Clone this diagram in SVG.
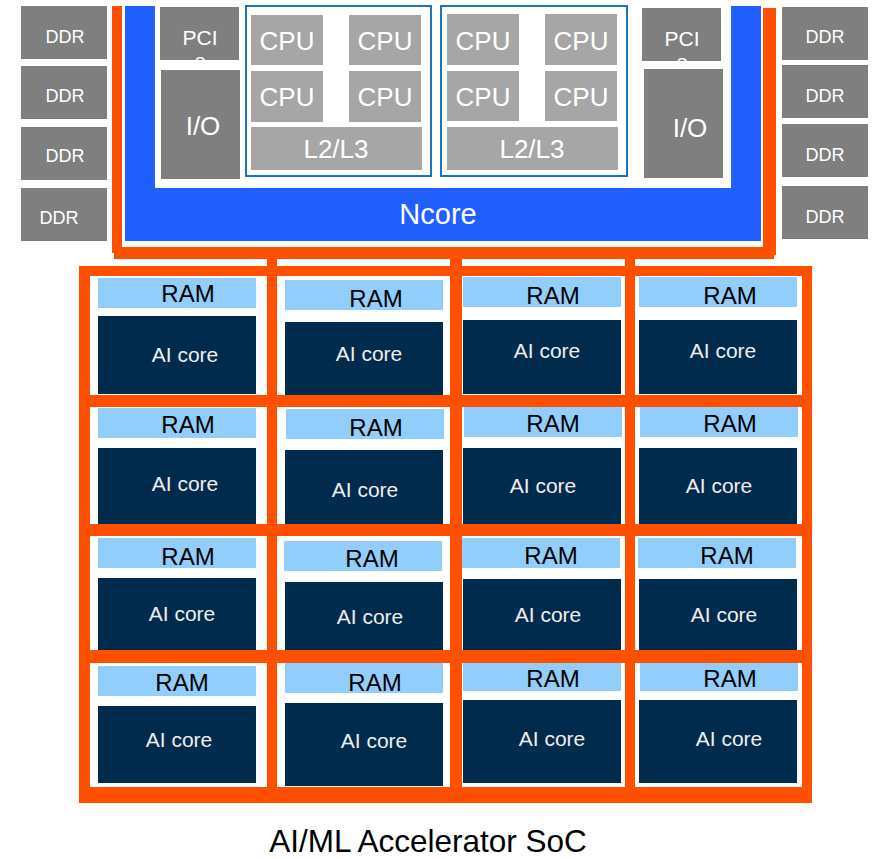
<svg xmlns="http://www.w3.org/2000/svg" width="876" height="859" viewBox="0 0 876 859">
<style>
text{font-family:"Liberation Sans",Arial,sans-serif;text-anchor:middle}
.dk{fill:#7F7F7F}
.lt{fill:#A6A6A6}
.wt{fill:#FFFFFF}
.ddr{font-size:18px}
.cpu{font-size:26px}
.ram{fill:#92CEFC}
.ai{fill:#012B4C}
.rt{font-size:24px;fill:#000}
.at{font-size:21px;fill:#EEEEEE}
.or{fill:#FF5000}
.cl{fill:none;stroke:#1B75BC;stroke-width:2}
</style>
<defs>
<clipPath id="pc1"><rect x="160" y="7" width="79" height="53"/></clipPath>
<clipPath id="pc2"><rect x="642" y="8" width="79" height="53"/></clipPath>
</defs>
<rect width="876" height="859" fill="#FFFFFF"/>

<g id="ddr-l1"><rect class="dk" x="21" y="6" width="86" height="53"/><text class="wt ddr" x="65" y="43">DDR</text></g>
<g id="ddr-l2"><rect class="dk" x="21" y="66" width="86" height="53"/><text class="wt ddr" x="65" y="102">DDR</text></g>
<g id="ddr-l3"><rect class="dk" x="21" y="127" width="86" height="53"/><text class="wt ddr" x="65" y="162">DDR</text></g>
<g id="ddr-l4"><rect class="dk" x="21" y="188" width="86" height="53"/><text class="wt ddr" x="59" y="224">DDR</text></g>
<g id="ddr-r1"><rect class="dk" x="782" y="7" width="86" height="53"/><text class="wt ddr" x="825" y="43">DDR</text></g>
<g id="ddr-r2"><rect class="dk" x="782" y="65" width="86" height="53"/><text class="wt ddr" x="825" y="102">DDR</text></g>
<g id="ddr-r3"><rect class="dk" x="782" y="124" width="86" height="53"/><text class="wt ddr" x="825" y="161">DDR</text></g>
<g id="ddr-r4"><rect class="dk" x="782" y="186" width="86" height="53"/><text class="wt ddr" x="825" y="223">DDR</text></g>

<g id="ncore"><path d="M125,6 H155 V188 H731 V6 H761 V241 H125 Z" fill="#225FFF"/><text class="wt" x="438" y="224" font-size="29">Ncore</text></g>

<g id="pcie-l"><rect class="dk" x="160" y="7" width="79" height="53"/><text class="wt" x="200" y="45" font-size="21" clip-path="url(#pc1)">PCI<tspan x="200" y="68">e</tspan></text></g>
<g id="io-l"><rect class="dk" x="161" y="70" width="79" height="109"/><text class="wt" x="203" y="135" font-size="26">I/O</text></g>
<g id="pcie-r"><rect class="dk" x="642" y="8" width="79" height="53"/><text class="wt" x="682" y="46" font-size="21" clip-path="url(#pc2)">PCI<tspan x="682" y="69">e</tspan></text></g>
<g id="io-r"><rect class="dk" x="644" y="69" width="79" height="109"/><text class="wt" x="690" y="137" font-size="26">I/O</text></g>

<g id="cluster-l">
<rect class="cl" x="246" y="6" width="185" height="170"/>
<rect class="lt" x="251" y="15" width="72" height="50"/><text class="wt cpu" x="287" y="50">CPU</text>
<rect class="lt" x="349" y="15" width="72" height="50"/><text class="wt cpu" x="385" y="50">CPU</text>
<rect class="lt" x="251" y="71" width="72" height="51"/><text class="wt cpu" x="287" y="106">CPU</text>
<rect class="lt" x="349" y="71" width="72" height="51"/><text class="wt cpu" x="385" y="106">CPU</text>
<rect class="lt" x="251" y="127" width="171" height="43"/><text class="wt cpu" x="336" y="158">L2/L3</text>
</g>
<g id="cluster-r">
<rect class="cl" x="441" y="6" width="186" height="170"/>
<rect class="lt" x="447" y="14" width="72" height="51"/><text class="wt cpu" x="483" y="50">CPU</text>
<rect class="lt" x="545" y="14" width="72" height="51"/><text class="wt cpu" x="581" y="50">CPU</text>
<rect class="lt" x="447" y="71" width="72" height="50"/><text class="wt cpu" x="483" y="106">CPU</text>
<rect class="lt" x="545" y="71" width="72" height="50"/><text class="wt cpu" x="581" y="106">CPU</text>
<rect class="lt" x="447" y="127" width="171" height="43"/><text class="wt cpu" x="532" y="158">L2/L3</text>
</g>

<g id="tile-1-1"><rect class="ram" x="98" y="278" width="158" height="30"/><text class="rt" x="188" y="302">RAM</text><rect class="ai" x="98" y="316" width="158" height="78"/><text class="at" x="185" y="362">AI core</text></g>
<g id="tile-1-2"><rect class="ram" x="285" y="280" width="158" height="30"/><text class="rt" x="376" y="307">RAM</text><rect class="ai" x="285" y="322" width="158" height="73"/><text class="at" x="369" y="361">AI core</text></g>
<g id="tile-1-3"><rect class="ram" x="463" y="277" width="158" height="30"/><text class="rt" x="553" y="304">RAM</text><rect class="ai" x="463" y="320" width="158" height="74"/><text class="at" x="547" y="358">AI core</text></g>
<g id="tile-1-4"><rect class="ram" x="639" y="277" width="158" height="30"/><text class="rt" x="730" y="304">RAM</text><rect class="ai" x="639" y="320" width="158" height="74"/><text class="at" x="723" y="358">AI core</text></g>

<g id="tile-2-1"><rect class="ram" x="98" y="408" width="158" height="30"/><text class="rt" x="188" y="433">RAM</text><rect class="ai" x="98" y="448" width="158" height="76"/><text class="at" x="185" y="491">AI core</text></g>
<g id="tile-2-2"><rect class="ram" x="286" y="409" width="158" height="30"/><text class="rt" x="376" y="436">RAM</text><rect class="ai" x="285" y="450" width="158" height="74"/><text class="at" x="365" y="497">AI core</text></g>
<g id="tile-2-3"><rect class="ram" x="464" y="407" width="158" height="30"/><text class="rt" x="553" y="432">RAM</text><rect class="ai" x="463" y="448" width="158" height="76"/><text class="at" x="543" y="493">AI core</text></g>
<g id="tile-2-4"><rect class="ram" x="640" y="407" width="158" height="30"/><text class="rt" x="730" y="432">RAM</text><rect class="ai" x="639" y="448" width="158" height="76"/><text class="at" x="719" y="493">AI core</text></g>

<g id="tile-3-1"><rect class="ram" x="98" y="538" width="158" height="30"/><text class="rt" x="188" y="565">RAM</text><rect class="ai" x="98" y="578" width="158" height="72"/><text class="at" x="182" y="621">AI core</text></g>
<g id="tile-3-2"><rect class="ram" x="284" y="541" width="158" height="30"/><text class="rt" x="372" y="567">RAM</text><rect class="ai" x="285" y="582" width="158" height="68"/><text class="at" x="370" y="624">AI core</text></g>
<g id="tile-3-3"><rect class="ram" x="462" y="538" width="158" height="30"/><text class="rt" x="551" y="564">RAM</text><rect class="ai" x="463" y="579" width="158" height="71"/><text class="at" x="548" y="622">AI core</text></g>
<g id="tile-3-4"><rect class="ram" x="638" y="538" width="158" height="30"/><text class="rt" x="727" y="564">RAM</text><rect class="ai" x="639" y="579" width="158" height="71"/><text class="at" x="724" y="622">AI core</text></g>

<g id="tile-4-1"><rect class="ram" x="98" y="666" width="158" height="30"/><text class="rt" x="182" y="691">RAM</text><rect class="ai" x="98" y="706" width="158" height="77"/><text class="at" x="179" y="747">AI core</text></g>
<g id="tile-4-2"><rect class="ram" x="285" y="663" width="158" height="30"/><text class="rt" x="375" y="691">RAM</text><rect class="ai" x="285" y="703" width="158" height="83"/><text class="at" x="374" y="748">AI core</text></g>
<g id="tile-4-3"><rect class="ram" x="463" y="663" width="158" height="28"/><text class="rt" x="553" y="687">RAM</text><rect class="ai" x="463" y="700" width="158" height="83"/><text class="at" x="552" y="746">AI core</text></g>
<g id="tile-4-4"><rect class="ram" x="640" y="663" width="158" height="28"/><text class="rt" x="730" y="687">RAM</text><rect class="ai" x="639" y="700" width="158" height="83"/><text class="at" x="729" y="746">AI core</text></g>

<g id="connectors" class="or">
<rect x="112" y="6" width="10" height="247"/>
<rect x="114" y="247" width="660" height="12"/>
<rect x="763" y="8" width="13" height="247"/>
<rect x="79" y="266" width="733" height="10"/>
<rect x="79" y="395" width="733" height="12"/>
<rect x="79" y="524" width="733" height="12"/>
<rect x="79" y="650" width="733" height="13"/>
<rect x="79" y="787" width="733" height="16"/>
<rect x="79" y="266" width="11" height="537"/>
<rect x="267" y="259" width="10" height="544"/>
<rect x="450" y="259" width="12" height="544"/>
<rect x="625" y="259" width="10" height="544"/>
<rect x="802" y="266" width="10" height="537"/>
</g>

<text id="title" x="428" y="852" font-size="31.5" fill="#000">AI/ML Accelerator SoC</text>
</svg>
